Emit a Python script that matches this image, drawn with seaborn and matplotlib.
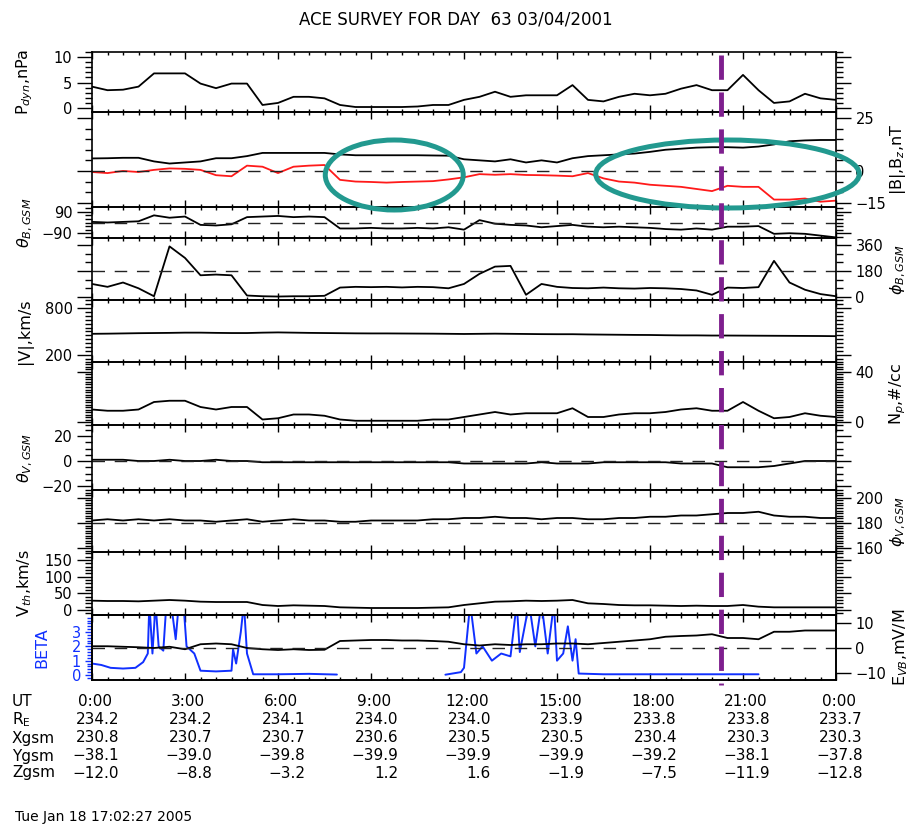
import numpy as np
import pandas as pd
import matplotlib
matplotlib.use("Agg")
import matplotlib.pyplot as plt
import matplotlib.transforms as mtransforms
from matplotlib.patches import Ellipse
from matplotlib.ticker import MultipleLocator, FixedLocator
import seaborn as sns

sns.set_style("white")
plt.rcParams['font.family'] = ['DejaVu Sans']
plt.rcParams['mathtext.fontset'] = 'dejavusans'
plt.rcParams['text.color'] = 'black'
plt.rcParams['axes.labelcolor'] = 'black'
plt.rcParams['xtick.color'] = 'black'
plt.rcParams['ytick.color'] = 'black'
plt.rcParams['axes.edgecolor'] = 'black'

# ---------------- data ----------------
hours = np.arange(0, 24.01, 0.5)

pdyn = [4.2, 3.5, 3.6, 4.2, 6.8, 6.8, 6.8, 4.8, 3.9, 4.8, 4.8, 0.6, 1.0, 2.2, 2.2, 1.9,
        0.6, 0.2, 0.2, 0.2, 0.2, 0.3, 0.6, 0.6, 1.6, 2.2, 3.2, 2.2, 2.5, 2.5, 2.5, 4.5,
        1.6, 1.3, 2.2, 2.8, 2.5, 2.8, 3.8, 4.5, 3.5, 3.5, 6.5, 3.5, 1.0, 1.3, 2.8, 1.9, 1.6]
bmag = [5.9, 6.0, 6.2, 6.2, 4.5, 3.5, 4.0, 4.5, 6.0, 6.0, 7.0, 8.5, 8.5, 8.5, 8.5, 8.5,
        7.8, 7.4, 7.4, 7.4, 7.4, 7.4, 7.3, 7.2, 5.5, 5.0, 4.5, 5.5, 4.0, 5.0, 4.0, 6.0,
        7.0, 7.4, 7.8, 8.2, 9.0, 10.0, 10.5, 11.0, 11.2, 11.2, 11.0, 11.5, 12.5, 14.0, 14.4, 14.6, 14.6]
bz = [-0.5, -1.0, 0.0, -0.5, 0.5, 1.2, 1.0, 0.5, -2.0, -2.5, 2.5, 2.0, -1.0, 2.0, 2.5, 2.8,
      -4.2, -5.0, -5.2, -5.5, -5.2, -5.0, -4.8, -4.0, -3.0, -1.5, -1.8, -1.5, -1.9, -2.0, -2.2, -2.5,
      -1.0, -3.5, -5.0, -5.5, -6.5, -7.0, -7.5, -8.5, -9.5, -7.0, -7.5, -7.5, -13.5, -13.5, -13.0, -14.5, -14.0]
theta_b = [5, 0, 5, 10, 60, 40, 50, -20, -25, -15, 45, 50, 55, 45, 50, 45,
           -50, -50, -45, -50, -50, -45, -50, -40, -60, 20, -10, -20, -25, -40, -30, -20,
           -35, -40, -35, -40, -45, -55, -60, -50, -60, -35, -35, -30, -95, -90, -95, -110, -125]
phi_b = [90, 70, 100, 60, 5, 350, 270, 150, 155, 150, 10, 5, 3, 5, 5, 8,
         65, 70, 68, 70, 66, 70, 68, 60, 90, 160, 210, 215, 15, 90, 70, 62,
         60, 65, 60, 58, 62, 60, 55, 45, 15, 65, 62, 68, 250, 100, 50, 20, 5]
vmag = [470, 472, 475, 478, 480, 482, 485, 485, 482, 480, 480, 485, 488, 485, 482, 480,
        478, 476, 475, 475, 474, 473, 472, 470, 468, 470, 472, 470, 468, 466, 465, 465,
        462, 460, 458, 456, 455, 452, 450, 450, 448, 448, 447, 446, 445, 444, 443, 442, 440]
np_dens = [10, 9, 9, 10, 16, 17, 17, 12, 10, 12, 12, 2, 3, 6, 6, 5,
           2, 1, 1, 1, 1, 1, 2, 2, 4, 6, 8, 6, 7, 7, 7, 11,
           4, 4, 6, 7, 7, 8, 10, 11, 9, 9, 16, 9, 3, 4, 7, 5, 4]
theta_v = [1, 1, 1, 0, 0, 1, 0, 0, 1, 0, 0, -1, -1, -1, -1, -1,
           -1, -1, -1, -1, -1, -1, -1, -1, -2, -2, -2, -2, -2, -1, -2, -2,
           -2, -1, -1, -1, -1, -1, -2, -2, -2, -5, -5, -5, -4, -2, 0, 0, 0]
phi_v = [182, 183, 182, 183, 182, 183, 182, 182, 181, 182, 183, 181, 182, 183, 182, 182,
         181, 181, 182, 182, 182, 182, 183, 183, 184, 184, 185, 184, 184, 183, 184, 184,
         183, 183, 184, 184, 185, 185, 186, 186, 187, 188, 188, 189, 186, 185, 185, 184, 184]
vth = [28, 27, 27, 26, 28, 30, 28, 25, 24, 24, 24, 15, 12, 14, 13, 12,
       8, 7, 6, 6, 6, 6, 7, 8, 15, 20, 25, 26, 28, 27, 28, 30,
       20, 18, 15, 14, 14, 13, 12, 13, 12, 12, 15, 10, 8, 8, 8, 8, 8]
ey = [0.7, 0.7, 0.5, 0.3, 0.0, 0.5, -0.5, 1.5, 1.8, 1.5, 0.0, -0.5, -0.8, -0.5, -0.8, -0.7,
      2.8, 3.0, 3.2, 3.2, 3.0, 3.0, 2.8, 2.5, 1.5, 1.0, 1.5, 1.2, 1.5, 1.5, 1.8, 1.8,
      1.5, 2.0, 2.5, 3.0, 3.5, 4.5, 4.8, 5.0, 5.5, 4.0, 4.0, 3.5, 6.5, 6.5, 7.0, 7.0, 7.0]
beta_t = [0.0, 0.3, 0.6, 1.0, 1.4, 1.65, 1.8, 1.85, 1.95, 2.05, 2.15, 2.3, 2.4, 2.55, 2.7,
          2.8, 2.95, 3.05, 3.3, 3.5, 4.0, 4.5, 4.55, 4.65, 4.8, 4.9, 5.0, 5.2, 6.0, 7.0,
          7.9, 7.95, 11.4, 11.9, 12.0, 12.2, 12.4, 12.6, 12.9, 13.2, 13.5, 13.7, 13.8, 14.1, 14.3,
          14.5, 14.7, 14.9, 15.0, 15.2, 15.35, 15.5, 15.6, 15.7, 16.5, 18.0, 20.0, 21.5]
beta_v = [0.8, 0.7, 0.5, 0.45, 0.5, 0.9, 1.5, 5, 1.5, 5, 2.0, 1.7, 5, 5, 2.5,
          5, 5, 2.0, 1.5, 0.3, 0.25, 0.3, 1.8, 0.8, 3.0, 5, 1.5, 0.05, 0.05, 0.08,
          0.03, np.nan, 0.02, 0.2, 0.5, 5, 1.5, 2.0, 1.0, 1.5, 1.3, 5, 1.6, 5, 2.0,
          5, 1.5, 5, 1.0, 1.5, 3.4, 1.0, 2.5, 0.1, 0.05, 0.05, 0.05, 0.05]

ut_hours = [0, 3, 6, 9, 12, 15, 18, 21, 24]
ut_labels = ["0:00", "3:00", "6:00", "9:00", "12:00", "15:00", "18:00", "21:00", "0:00"]
re_vals = [234.2, 234.2, 234.1, 234.0, 234.0, 233.9, 233.8, 233.8, 233.7]
xgsm = [230.8, 230.7, 230.7, 230.6, 230.5, 230.5, 230.4, 230.3, 230.3]
ygsm = [-38.1, -39.0, -39.8, -39.9, -39.9, -39.9, -39.2, -38.1, -37.8]
zgsm = [-12.0, -8.8, -3.2, 1.2, 1.6, -1.9, -7.5, -11.9, -12.8]

title = "ACE SURVEY FOR DAY  63 03/04/2001"
stamp = "Tue Jan 18 17:02:27 2005"
event_hour = 20.3

# ---------------- layout ----------------
W, H = 915, 825
fig = plt.figure(figsize=(W / 100, H / 100), dpi=100)
fig.patch.set_facecolor('white')
L, R = 92, 836
edges = [52, 112, 207, 238, 300, 362, 425, 490, 552, 615, 680]
axes = [fig.add_axes([L / W, 1 - edges[i + 1] / H, (R - L) / W, (edges[i + 1] - edges[i]) / H])
        for i in range(10)]


def style(ax, ylim, majors, minor, side, color='black'):
    ax.set_xlim(0, 24)
    ax.set_ylim(*ylim)
    ax.set_facecolor('none')
    for sp in ax.spines.values():
        sp.set_linewidth(1.2)
        sp.set_color('black')
    ax.xaxis.set_major_locator(MultipleLocator(3))
    ax.xaxis.set_minor_locator(MultipleLocator(0.5))
    ax.tick_params(axis='x', which='both', direction='in', top=True, bottom=True,
                   labelbottom=False, labeltop=False, width=1, color='black')
    ax.tick_params(axis='x', which='major', length=5)
    ax.tick_params(axis='x', which='minor', length=2.5)
    ax.yaxis.set_major_locator(FixedLocator(majors))
    ax.yaxis.set_minor_locator(MultipleLocator(minor))
    ax.tick_params(axis='y', which='both', direction='out', left=True, right=True,
                   labelleft=(side == 'left'), labelright=(side == 'right'),
                   labelsize=10.5, pad=3, width=1, colors=color)
    ax.tick_params(axis='y', which='major', length=11)
    ax.tick_params(axis='y', which='minor', length=5)
    ax.set_xlabel('')
    ax.set_ylabel('')


def label(text, side, mid, color='black', xpos=None):
    x = xpos if xpos is not None else (25 if side == 'left' else 898)
    fig.text(x / W, 1 - mid / H, text, rotation=90, ha='center', va='center',
             rotation_mode='anchor', fontsize=11.5, color=color)


def line(ax, x, y, color='black', lw=1.3):
    sns.lineplot(x=x, y=y, ax=ax, color=color, lw=lw, estimator=None, sort=False, legend=False)


def dashed(ax, yv):
    ax.axhline(yv, color='#222222', lw=1.0, dashes=(9, 7))


mids = [(edges[i] + edges[i + 1]) / 2 for i in range(10)]

# 1 P_dyn
ax = axes[0]
line(ax, hours, pdyn)
style(ax, (-0.78, 11.0), [0, 5, 10], 1, 'left')
label(r"P$_{dyn}$,nPa", 'left', mids[0])

# 2 |B|, Bz
ax = axes[1]
line(ax, hours, bmag)
line(ax, hours, bz, color='#FF1A1A')
dashed(ax, 0)
style(ax, (-17.0, 27.8), [-15, 0, 25], 5, 'right')
label(r"|B|,B$_z$,nT", 'right', mids[1])

# 3 theta_B
ax = axes[2]
line(ax, hours, theta_b)
dashed(ax, 0)
style(ax, (-130, 130), [-90, 90], 30, 'left')
label(r"$\theta_{B,GSM}$", 'left', mids[2])

# 4 phi_B
ax = axes[3]
line(ax, hours, phi_b)
dashed(ax, 180)
style(ax, (-21, 408), [0, 180, 360], 60, 'right')
label(r"$\phi_{B,GSM}$", 'right', mids[3])

# 5 |V|
ax = axes[4]
line(ax, hours, vmag)
style(ax, (110, 902), [200, 800], 50, 'left')
label(r"|V|,km/s", 'left', mids[4])

# 6 Np
ax = axes[5]
line(ax, hours, np_dens)
style(ax, (-2.4, 48), [0, 40], 2, 'right')
label(r"N$_p$,#/cc", 'right', mids[5])

# 7 theta_V
ax = axes[6]
line(ax, hours, theta_v)
dashed(ax, 0)
style(ax, (-23.2, 28.8), [-20, 0, 20], 5, 'left')
label(r"$\theta_{V,GSM}$", 'left', mids[6])

# 8 phi_V
ax = axes[7]
line(ax, hours, phi_v)
dashed(ax, 180)
style(ax, (156.8, 206.4), [160, 180, 200], 2, 'right')
label(r"$\phi_{V,GSM}$", 'right', mids[7])

# 9 Vth
ax = axes[8]
line(ax, hours, vth)
style(ax, (-15, 174), [0, 50, 100, 150], 10, 'left')
label(r"V$_{th}$,km/s", 'left', mids[8])

# 10 BETA / E
ax = axes[9]
bdf = pd.DataFrame({'t': beta_t, 'v': beta_v})
bdf['seg'] = bdf['v'].isna().cumsum()
for _, seg in bdf.dropna().groupby('seg'):
    line(ax, seg['t'].to_numpy(), seg['v'].to_numpy(), color='#1030FF', lw=1.4)
style(ax, (-0.35, 4.19), [0, 1, 2, 3], 0.2, 'left', color='#1030FF')
ax.tick_params(axis='y', which='major', length=5)
ax.tick_params(axis='y', which='minor', length=3.5)
axe = ax.twinx()
line(axe, hours, ey)
dashed(axe, 0)
axe.set_ylim(-12.8, 13.2)
axe.set_xlim(0, 24)
axe.set_facecolor('none')
axe.yaxis.set_major_locator(FixedLocator([-10, 0, 10]))
axe.yaxis.set_minor_locator(MultipleLocator(2))
axe.tick_params(axis='y', which='both', direction='out', left=False, right=True,
                labelleft=False, labelright=True, labelsize=10.5, pad=3, width=1, colors='black')
axe.tick_params(axis='y', which='major', length=11)
axe.tick_params(axis='y', which='minor', length=0)
axe.set_ylabel('')
for sp in axe.spines.values():
    sp.set_linewidth(1.2)
    sp.set_color('black')
label("BETA", 'left', mids[9], color='#1030FF', xpos=42)
label(r"E$_{VB}$,mV/M", 'right', mids[9], xpos=901)

# ---------------- text ----------------
fig.text(456 / W, 1 - 20 / H, title, ha='center', va='center', fontsize=12, color='black')

base = mtransforms.blended_transform_factory(axes[9].transData, fig.transFigure)
num_tr = mtransforms.offset_copy(base, fig=fig, x=27, y=0, units='dots')
ut_tr = mtransforms.offset_copy(base, fig=fig, x=3, y=0, units='dots')


def fmt(v):
    return f"{v:.1f}".replace('-', '\u2212')


rows = [("UT", None, 702), (r"R$_\mathrm{E}$", re_vals, 720), ("Xgsm", xgsm, 738),
        ("Ygsm", ygsm, 756), ("Zgsm", zgsm, 773)]
for name, vals, ypx in rows:
    fig.text(12 / W, 1 - ypx / H, name, ha='left', va='center', fontsize=11, color='black')
    if vals is None:
        for h, s in zip(ut_hours, ut_labels):
            fig.text(h, 1 - ypx / H, s, transform=ut_tr, ha='center', va='center',
                     fontsize=11, color='black')
    else:
        for h, v in zip(ut_hours, vals):
            fig.text(h, 1 - ypx / H, fmt(v), transform=num_tr, ha='right', va='center',
                     fontsize=11, color='black')

fig.text(15 / W, 1 - 817 / H, stamp, ha='left', va='center', fontsize=10, color='black')

# ---------------- overlay annotations ----------------
ov = fig.add_axes([L / W, 0, (R - L) / W, 1])
ov.set_xlim(0, 24)
ov.set_ylim(H, 0)
ov.axis('off')
ov.patch.set_alpha(0)
ov.plot([event_hour, event_hour], [55, 685], color='#7E1F8E', lw=3.5, dashes=(5, 2.6),
        solid_capstyle='butt', dash_capstyle='butt')
teal = '#22998F'
ov.add_patch(Ellipse((9.75, 175), 4.45, 70, fill=False, ec=teal, lw=3.6))
ov.add_patch(Ellipse((20.5, 174), 8.5, 68, fill=False, ec=teal, lw=3.6, clip_on=False))

fig.savefig("out.png", dpi=100, facecolor='white')
